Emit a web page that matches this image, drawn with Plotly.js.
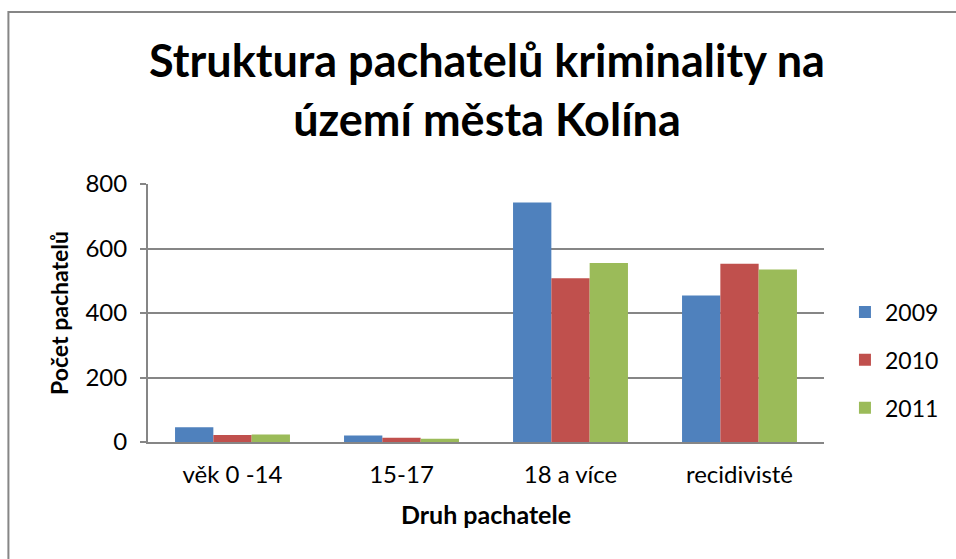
<!DOCTYPE html>
<html>
<head>
<meta charset="utf-8">
<script src="https://cdn.plot.ly/plotly-3.0.1.min.js"></script>
<style>html,body{margin:0;padding:0;background:#fff;}#chart{width:956px;height:559px;}</style>
</head>
<body>
<div id="chart"></div>
<script>
var categories = ["věk 0 -14", "15-17", "18 a více", "recidivisté"];
var years = ["2009", "2010", "2011"];
var values2009 = [46, 20, 743, 454];
var values2010 = [22, 13, 508, 553];
var values2011 = [23, 10, 555, 535];
var colors = ["#4F81BD", "#C0504D", "#9BBB59"];
var seriesValues = [values2009, values2010, values2011];

var FONT = "Lato, 'Open Sans', sans-serif";
var traces = years.map(function(y, i){
  return {type:"bar", name:y, x:categories, y:seriesValues[i],
          legendgroup:"g"+i, marker:{color:colors[i]}};
});

var L = 148, R = 130, T = 184, B = 117;
var pw = 956 - L - R, ph = 559 - T - B;

var layout = {
  width:956, height:559,
  margin:{l:L, r:R, t:T, b:B},
  paper_bgcolor:"#fff", plot_bgcolor:"#fff",
  font:{family:FONT, color:"#000"},
  bargap:0.32, bargroupgap:0,
  title:{text:"<b>Struktura pachatelů kriminality na<br>území města Kolína</b>",
         font:{size:45, family:FONT, color:"#000"},
         x:487/956, xanchor:"center", y:1-77/559, yanchor:"middle"},
  xaxis:{title:{text:"<b>Druh pachatele</b>", font:{size:25}, standoff:20},
         tickfont:{size:24}, ticklabelstandoff:10,
         showline:true, linecolor:"#868686", linewidth:2,
         ticks:"", showgrid:false},
  yaxis:{title:{text:"<b>Počet pachatelů</b>", font:{size:23}, standoff:10},
         range:[0,800], dtick:200, tickfont:{size:24}, ticklabelstandoff:8,
         showline:true, linecolor:"#868686", linewidth:2,
         ticks:"outside", ticklen:6, tickcolor:"#868686", tickwidth:2,
         gridcolor:"#868686", gridwidth:2, zeroline:false},
  legend:{x:1.031, y:(442-360)/ph, xanchor:"left", yanchor:"middle",
          font:{size:23}, itemwidth:30, tracegroupgap:15, traceorder:"grouped"},
  showlegend:true,
  shapes:[{type:"rect", xref:"paper", yref:"paper",
           x0:(8-L)/pw, x1:1.3, y0:-0.6, y1:(559-B-12)/ph,
           line:{color:"#868686", width:2}, fillcolor:"rgba(0,0,0,0)"}]
};
Plotly.newPlot("chart", traces, layout, {displayModeBar:false, staticPlot:true});
</script>
</body>
</html>
